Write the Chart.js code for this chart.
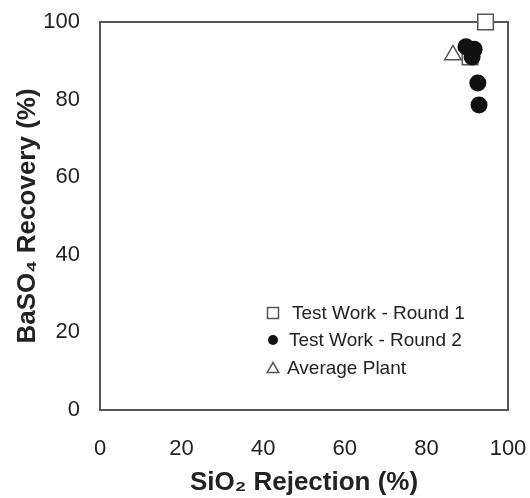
<!DOCTYPE html>
<html>
<head>
<meta charset="utf-8">
<script src="https://cdn.jsdelivr.net/npm/chart.js@4.4.1/dist/chart.umd.min.js"></script>
<style>
  html, body { margin: 0; padding: 0; background: #fff; overflow: hidden; }
  #wrap { width: 530px; height: 498px; }
</style>
</head>
<body>
<div id="wrap"><canvas id="c" width="530" height="498"></canvas></div>
<script>
// ---- data ----
const seriesLabels = ['Test Work - Round 1', 'Test Work - Round 2', 'Average Plant'];
const round1X = [94.5, 90.7];
const round1Y = [100, 91.0];
const round2X = [89.7, 91.7, 91.2, 92.6, 92.9];
const round2Y = [93.6, 93.0, 91.0, 84.3, 78.6];
const plantX = [86.5];
const plantY = [91.5];
const xTicks = [0, 20, 40, 60, 80, 100];
const yTicks = [0, 20, 40, 60, 80, 100];

const toPts = (xs, ys) => xs.map((x, i) => ({ x: x, y: ys[i] }));

const FONT = "'Liberation Sans', Arial, sans-serif";
const TXT = '#222';
const FRAME = '#555';

const framePlugin = {
  id: 'frame',
  beforeDatasetsDraw(chart) {
    const { ctx, chartArea: a } = chart;
    ctx.save();
    ctx.strokeStyle = FRAME;
    ctx.lineWidth = 2;
    ctx.strokeRect(a.left, a.top, a.right - a.left, a.bottom - a.top);
    ctx.restore();
  }
};

function drawSymbol(ctx, style, x, y, r) {
  ctx.beginPath();
  if (style === 'rect') {
    ctx.rect(x - r, y - r, 2 * r, 2 * r);
    ctx.fillStyle = '#fff'; ctx.fill();
    ctx.strokeStyle = FRAME; ctx.lineWidth = 1.5; ctx.stroke();
  } else if (style === 'circle') {
    ctx.arc(x, y, r, 0, Math.PI * 2);
    ctx.fillStyle = '#111'; ctx.fill();
  } else {
    ctx.moveTo(x, y - r);
    ctx.lineTo(x + r * 1.05, y + r * 0.8);
    ctx.lineTo(x - r * 1.05, y + r * 0.8);
    ctx.closePath();
    ctx.fillStyle = '#fff'; ctx.fill();
    ctx.strokeStyle = FRAME; ctx.lineWidth = 1.5; ctx.stroke();
  }
}

const legendPlugin = {
  id: 'innerLegend',
  afterDraw(chart) {
    const { ctx } = chart;
    const styles = ['rect', 'circle', 'triangle'];
    const rows = [313, 340, 368];
    const textX = [292, 289, 287];
    ctx.save();
    ctx.font = '19px ' + FONT;
    ctx.fillStyle = TXT;
    ctx.textBaseline = 'middle';
    seriesLabels.forEach((lab, i) => {
      drawSymbol(ctx, styles[i], 273, rows[i], i === 1 ? 5 : 5.5);
      ctx.fillStyle = TXT;
      ctx.fillText(lab, textX[i], rows[i] + 1);
    });
    ctx.restore();
  }
};

new Chart(document.getElementById('c'), {
  type: 'scatter',
  data: {
    datasets: [
      {
        label: seriesLabels[0],
        data: toPts(round1X, round1Y),
        pointStyle: 'rect',
        pointRadius: 11,
        pointBackgroundColor: '#fff',
        pointBorderColor: FRAME,
        pointBorderWidth: 1.5,
        order: 1,
        clip: false
      },
      {
        label: seriesLabels[1],
        data: toPts(round2X, round2Y),
        pointStyle: 'circle',
        pointRadius: 8.5,
        pointBackgroundColor: '#111',
        pointBorderColor: '#111',
        pointBorderWidth: 0,
        order: 0,
        clip: false
      },
      {
        label: seriesLabels[2],
        data: toPts(plantX, plantY),
        pointStyle: 'triangle',
        pointRadius: 9.5,
        pointBackgroundColor: '#fff',
        pointBorderColor: FRAME,
        pointBorderWidth: 1.5,
        order: 2,
        clip: false
      }
    ]
  },
  options: {
    responsive: false,
    animation: false,
    events: [],
    layout: { padding: { top: 22, right: 22, left: 0, bottom: 0 } },
    plugins: {
      legend: { display: false },
      tooltip: { enabled: false }
    },
    scales: {
      x: {
        type: 'linear',
        min: 0, max: 100,
        afterBuildTicks(s) { s.ticks = xTicks.map(v => ({ value: v })); },
        afterFit(s) { s.height = 88; s.paddingLeft = 0; s.paddingRight = 0; },
        grid: { display: false, drawTicks: false },
        border: { display: false },
        ticks: { font: { family: FONT, size: 22 }, color: TXT, padding: 26, maxRotation: 0 },
        title: {
          display: true,
          text: 'SiO\u2082 Rejection (%)',
          font: { family: FONT, size: 26, weight: 'bold' },
          color: TXT,
          padding: { top: 0, bottom: 0 }
        }
      },
      y: {
        type: 'linear',
        min: 0, max: 100,
        afterBuildTicks(s) { s.ticks = yTicks.map(v => ({ value: v })); },
        afterFit(s) { s.width = 100; s.paddingTop = 0; s.paddingBottom = 0; },
        grid: { display: false, drawTicks: false },
        border: { display: false },
        ticks: { font: { family: FONT, size: 22 }, color: TXT, padding: 20 },
        title: {
          display: true,
          text: 'BaSO\u2084 Recovery (%)',
          font: { family: FONT, size: 26, weight: 'bold' },
          color: TXT,
          padding: { top: 12, bottom: 0 }
        }
      }
    }
  },
  plugins: [framePlugin, legendPlugin]
});
</script>
</body>
</html>
